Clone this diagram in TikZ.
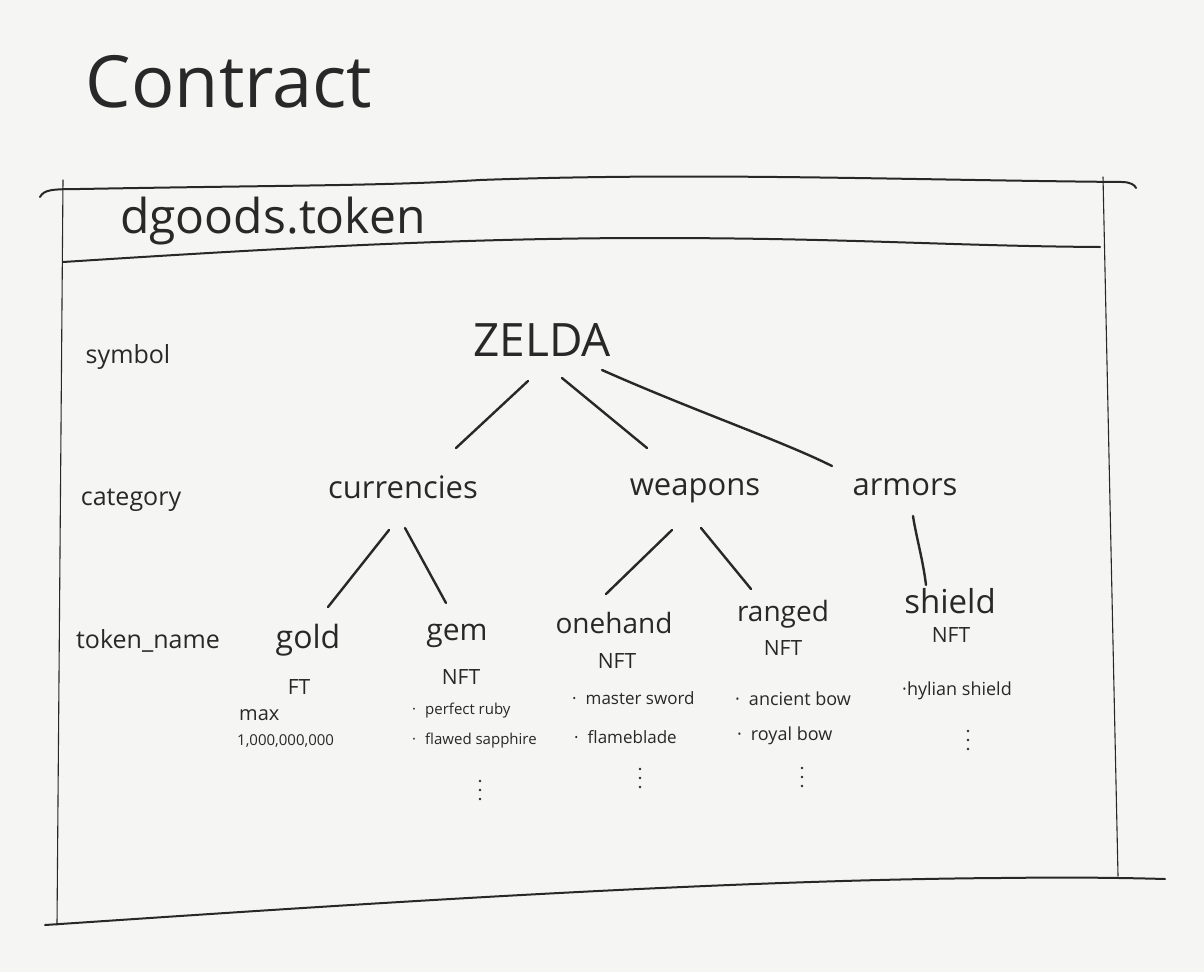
\documentclass[tikz,border=0pt]{standalone}
\usepackage{fontspec}
\setmainfont{Open Sans}
\definecolor{bg}{RGB}{245,245,244}
\definecolor{ink}{RGB}{40,40,40}
\tikzset{
  lbl/.style={text=ink, inner sep=0pt, anchor=base, font=\fontsize{25}{27}\selectfont},
  big/.style={text=ink, inner sep=0pt, anchor=base},
  cat/.style={text=ink, inner sep=0pt, anchor=base, font=\fontsize{31}{34}\selectfont},
  tok/.style={text=ink, inner sep=0pt, anchor=base, font=\fontsize{28}{31}\selectfont},
  kind/.style={text=ink, inner sep=0pt, anchor=base, font=\fontsize{21}{23}\selectfont},
  item/.style={text=ink, inner sep=0pt, anchor=base west, font=\fontsize{17}{19}\selectfont},
  dotmark/.style={fill=ink},
  conn/.style={draw=ink, line width=2.4pt, line cap=round},
  frame/.style={draw=ink, line width=2pt, line cap=round},
  side/.style={draw=ink, line width=1.1pt, line cap=round}
}
\newcommand{\bul}{·\hspace{9pt}}
\begin{document}
\begin{tikzpicture}[x=1pt,y=-1pt]
\fill[bg] (0,0) rectangle (1204,972);
\useasboundingbox (0,0) rectangle (1204,972);

% title
\node[big, font=\fontsize{72}{78}\selectfont] (contract) at (229,107) {Contract};

% frame
\draw[frame] (40,197) .. controls (44,190) and (50,189) .. (80,189)
  .. controls (300,185) and (380,186) .. (480,180)
  .. controls (700,172) and (900,180) .. (1122,182)
  .. controls (1130,182) and (1135,185) .. (1136,188);
\draw[frame] (63,262) .. controls (250,250) and (450,238) .. (650,238)
  .. controls (850,238) and (950,246) .. (1100,247);
\draw[frame] (45,925) .. controls (300,908) and (700,880) .. (1000,878)
  .. controls (1080,877) and (1130,878) .. (1165,879);
\draw[side] (63,180) -- (57,925);
\draw[side] (1103,177) -- (1118,876);

\node[big, font=\fontsize{48}{52}\selectfont, anchor=base west] (token) at (120,233) {dgoods.token};

% row labels
\node[lbl] (symbol) at (128,363) {symbol};
\node[lbl] (category) at (131,505) {category};
\node[lbl] (tokenname) at (148,648) {token\_name};

% tree
\node[big, font=\fontsize{46}{50}\selectfont] (zelda) at (542,356) {ZELDA};
\node[cat] (currencies) at (403,498) {currencies};
\node[cat] (weapons) at (695,495) {weapons};
\node[cat] (armors) at (905,495) {armors};

\node[tok, font=\fontsize{32}{35}\selectfont] (gold) at (308,648) {gold};
\node[tok, font=\fontsize{30}{33}\selectfont] (gem) at (457,640) {gem};
\node[tok] (onehand) at (614,633) {onehand};
\node[tok] (ranged) at (783,621) {ranged};
\node[tok, font=\fontsize{33}{36}\selectfont] (shield) at (950,613) {shield};

\draw[conn] ([shift={(-14,25)}]zelda.base) -- ([shift={(53,-50)}]currencies.base);
\draw[conn] ([shift={(20,22)}]zelda.base) -- ([shift={(-48,-47)}]weapons.base);
\draw[conn] ([shift={(60,14)}]zelda.base) .. controls +(90,40) and +(-50,-25) .. ([shift={(-73,-29)}]armors.base);
\draw[conn] ([shift={(-14,32)}]currencies.base) -- ([shift={(20,-41)}]gold.base);
\draw[conn] ([shift={(2,30)}]currencies.base) -- ([shift={(-11,-37)}]gem.base);
\draw[conn] ([shift={(-23,35)}]weapons.base) -- ([shift={(-8,-39)}]onehand.base);
\draw[conn] ([shift={(6,33)}]weapons.base) -- ([shift={(-32,-32)}]ranged.base);
\draw[conn] ([shift={(8,21)}]armors.base) .. controls +(3,20) and +(-3,-25) .. ([shift={(-24,-28)}]shield.base);

% kinds
\node[kind] (ft) at (299,694) {FT};
\node[kind] (nftgem) at (461,684) {NFT};
\node[kind] (nftone) at (617,668) {NFT};
\node[kind] (nftran) at (783,655) {NFT};
\node[kind] (nftshi) at (951,642) {NFT};

% items
\node[item, font=\fontsize{20}{22}\selectfont] (max) at (239,720) {max};
\node[item, font=\fontsize{15}{17}\selectfont] (maxval) at (237,745) {1,000,000,000};

\node[item, font=\fontsize{15}{17}\selectfont] (ruby) at (412,714) {\bul perfect ruby};
\node[item, font=\fontsize{15}{17}\selectfont] (sapphire) at (412,744) {\bul flawed sapphire};
\coordinate (gemmore) at (480,790);

\node[item] (master) at (572,704) {\bul master sword};
\node[item] (flame) at (574,743) {\bul flameblade};
\coordinate (onemore) at (640,778);

\node[item, font=\fontsize{18}{20}\selectfont] (ancient) at (735,705) {\bul ancient bow};
\node[item, font=\fontsize{18}{20}\selectfont] (royal) at (737,740) {\bul royal bow};
\coordinate (ranmore) at (802,777);

\node[item, font=\fontsize{18}{20}\selectfont] (hylian) at (902,695) {·hylian shield};
\coordinate (shimore) at (968,740);

\foreach \c in {gemmore,onemore,ranmore,shimore}{
  \fill[dotmark] ([shift={(0,-9)}]\c) circle (1.4);
  \fill[dotmark] (\c) circle (1.4);
  \fill[dotmark] ([shift={(0,9)}]\c) circle (1.4);
}
\end{tikzpicture}
\end{document}
